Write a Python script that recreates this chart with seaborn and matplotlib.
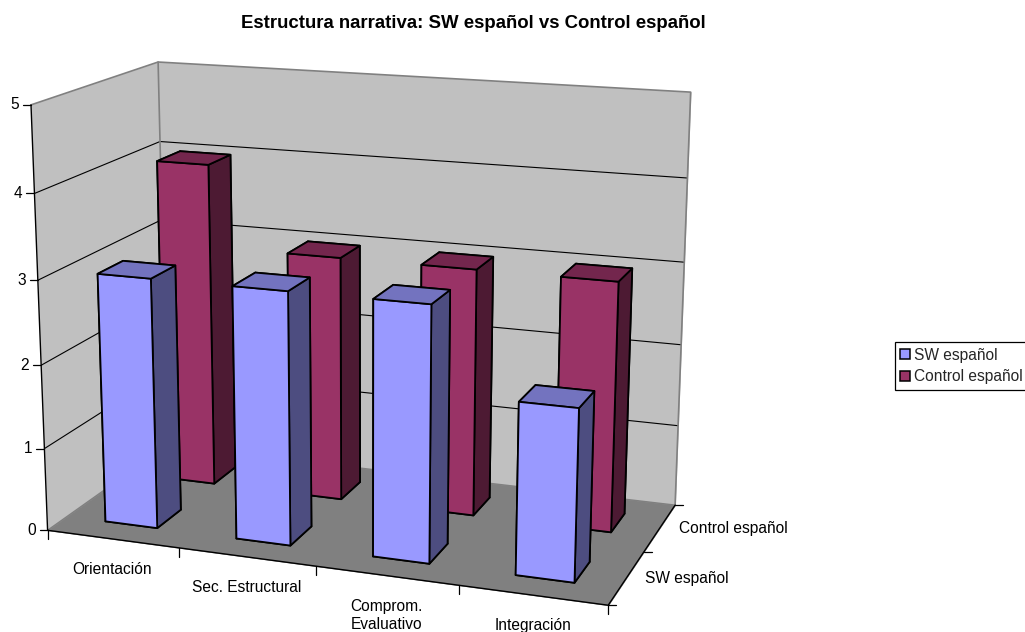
import numpy as np
import matplotlib
matplotlib.use("Agg")
import matplotlib.pyplot as plt
from matplotlib.lines import Line2D
from matplotlib.patches import Patch
from matplotlib.transforms import IdentityTransform
from mpl_toolkits.mplot3d import proj3d
from mpl_toolkits.mplot3d.art3d import Poly3DCollection
import seaborn as sns

categories = ["Orientación", "Sec. Estructural", "Comprom.\nEvaluativo", "Integración"]
series_names = ["SW español", "Control español"]
sw_values = [3.0, 3.0, 3.0, 2.0]
control_values = [4.0, 3.0, 3.0, 3.0]
z_ticks = [0, 1, 2, 3, 4, 5]
title = "Estructura narrativa: SW español vs Control español"

sns.set_style("white")
plt.rcParams["font.family"] = ["Liberation Sans", "DejaVu Sans"]
palette = sns.color_palette(["#9999FF", "#993366"])

W, H = 1025, 632
FONT = 11.2
fig = plt.figure(figsize=(W / 100, H / 100), dpi=100, facecolor="white")

# Camera and box proportions of the perspective view
side = 756.4
left, bottom_px = -22.2, 701.6
ax = fig.add_axes([left / W, 1 - bottom_px / H, side / W, side / H],
                  projection="3d", computed_zorder=False)
ax.set_axis_off()
ax.view_init(15.03, -70.17)
ax.set_proj_type("persp", focal_length=0.551)
ax.set_box_aspect((1.3366, 0.6643, 1))

nx, ny, nz = len(categories), len(series_names), z_ticks[-1]
WALL, FLOOR, EDGE = "#C0C0C0", "#808080", "#808080"

# Walls and floor
panes = [
    [(0, 0, 0), (0, ny, 0), (0, ny, nz), (0, 0, nz)],
    [(0, ny, 0), (nx, ny, 0), (nx, ny, nz), (0, ny, nz)],
    [(0, 0, 0), (nx, 0, 0), (nx, ny, 0), (0, ny, 0)],
]
for verts, col in zip(panes, [WALL, WALL, FLOOR]):
    ax.add_collection3d(Poly3DCollection([verts], facecolors=col, edgecolors=col,
                                         linewidths=0.5, zorder=1))

# Horizontal grid around the two walls
for z in z_ticks[1:-1]:
    ax.plot3D([0, 0, nx], [0, ny, ny], [z, z, z], color="black", lw=0.8, zorder=2)

# Wall outlines
ax.plot3D([0, 0, nx, nx], [0, ny, ny, ny], [nz, nz, nz, 0], color=EDGE, lw=1.2, zorder=2)
ax.plot3D([0, 0], [ny, ny], [0, nz], color=EDGE, lw=1.2, zorder=2)
ax.plot3D([0, 0, nx], [0, ny, ny], [0, 0, 0], color=EDGE, lw=1.0, zorder=2)

# Bars: back row first so the front row covers it
bar_w = 0.4
for row, values in reversed(list(enumerate([sw_values, control_values]))):
    base = np.array(palette[row])
    # faces: bottom, top, front, back, left, right
    faces = [base, base * 0.75, base, base, base * 0.5, base * 0.5]
    for i, v in enumerate(values):
        ax.bar3d(i + 0.3, row + 0.3, 0, bar_w, bar_w, v, color=faces, shade=False,
                 edgecolor="black", linewidth=1.3, zorder=5 + 5 * (1 - row) + i)

ax.set_xlim(0, nx)
ax.set_ylim(0, ny)
ax.set_zlim(0, nz)

# Axis lines drawn over the floor
ax.plot3D([0, 0], [0, 0], [0, nz], color="black", lw=1.0, zorder=3)
ax.plot3D([0, nx, nx], [0, 0, ny], [0, 0, 0], color="black", lw=1.0, zorder=3)

ax.apply_aspect()


def to_px(x, y, z):
    """Display position of a point given in data coordinates."""
    X, Y, _ = proj3d.proj_transform(x, y, z, ax.get_proj())
    return ax.transData.transform((X, Y))


def tick(x, y, z, dx, dy):
    px, py = to_px(x, y, z)
    fig.add_artist(Line2D([px, px + dx], [py, py + dy], color="black", lw=0.9,
                          transform=IdentityTransform()))


def label(x, y, z, dx, dy, s, ha, va):
    px, py = to_px(x, y, z)
    fig.text(px + dx, py + dy, s, ha=ha, va=va, fontsize=FONT, color="black",
             transform=IdentityTransform(), linespacing=1.28)


for z in z_ticks:
    tick(0, 0, z, -8, 0)
    label(0, 0, z, -12, 0, str(z), "right", "center")
for x in range(nx + 1):
    tick(x, 0, 0, 0, -9)
for i, name in enumerate(categories):
    label(i + 0.5, 0, 0, 0, -23, name, "center", "top")
for y in range(ny + 1):
    tick(nx, y, 0, 8, 0)
for j, name in enumerate(series_names):
    label(nx, j + 0.5, 0, 19, -1, name, "left", "center")

fig.text(473 / W, 1 - 23 / H, title, ha="center", va="center",
         fontsize=13.4, fontweight="bold", color="black")

handles = [Patch(facecolor=c, edgecolor="black", linewidth=1.1) for c in palette]
leg = fig.legend(handles, series_names, loc="upper left",
                 bbox_to_anchor=(894.5 / W, 1 - 342 / H), bbox_transform=fig.transFigure,
                 fontsize=FONT, frameon=True, fancybox=False, framealpha=1, edgecolor="black",
                 borderaxespad=0, borderpad=0.38, labelspacing=0.42,
                 handlelength=0.62, handleheight=0.62, handletextpad=0.25)
leg.get_frame().set_linewidth(0.9)

fig.savefig("out.png", dpi=100, facecolor="white")
